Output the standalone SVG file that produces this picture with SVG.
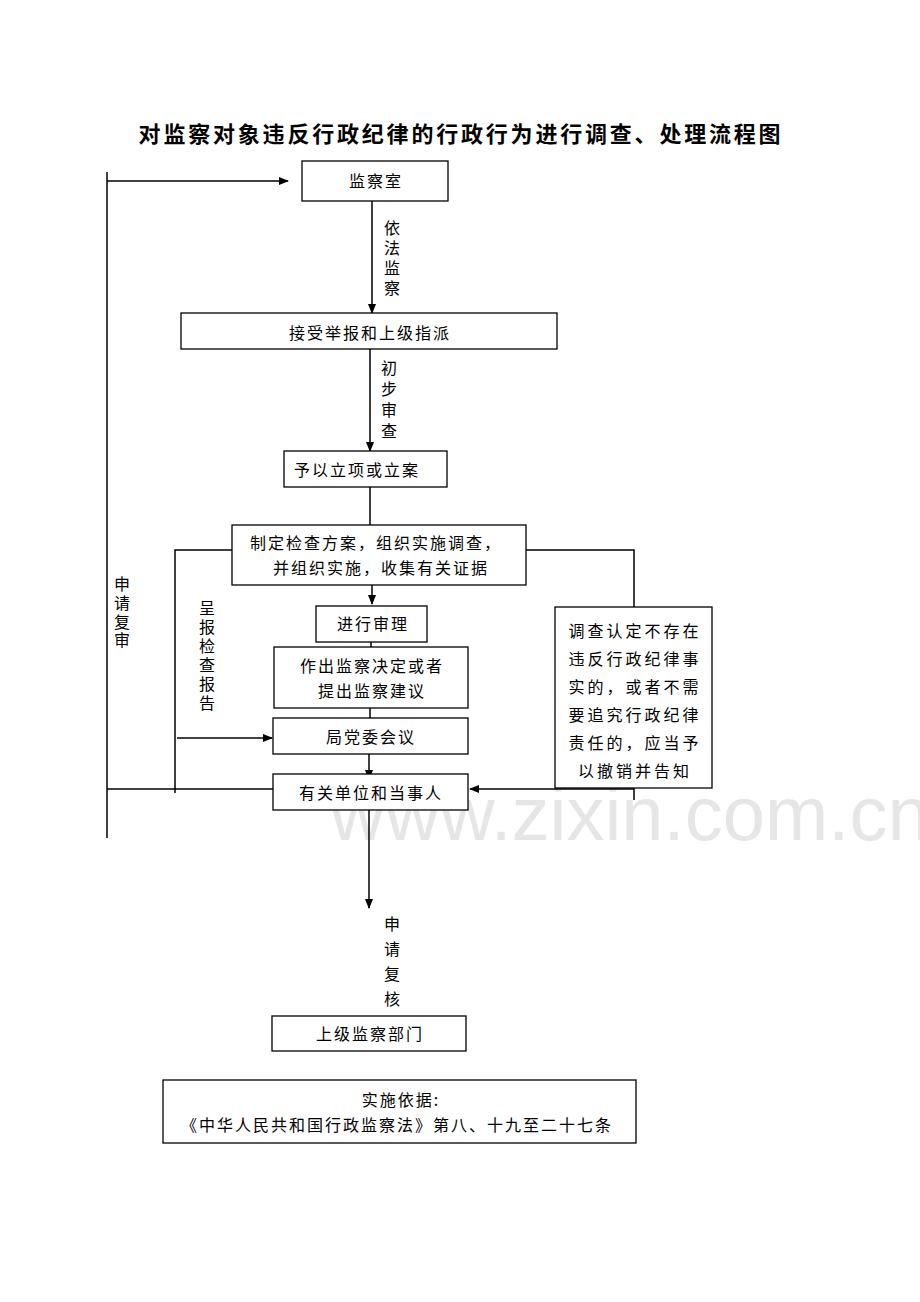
<svg xmlns="http://www.w3.org/2000/svg" width="920" height="1302" viewBox="0 0 920 1302">
<style>
.b{fill:#fff;stroke:#000;stroke-width:1.3}
.t{font-family:"Noto Sans CJK SC","Noto Sans CJK JP",sans-serif;font-size:16px;fill:#000;text-anchor:middle;letter-spacing:2px}
.r{letter-spacing:3px}
.l{stroke:#000;stroke-width:1.5;fill:none}
</style>
<defs><marker id="a" markerWidth="10" markerHeight="8" refX="9" refY="4" orient="auto" markerUnits="userSpaceOnUse"><path d="M0,0L10,4L0,8z" fill="#000"/></marker></defs>
<rect width="920" height="1302" fill="#fff"/>
<text x="330" y="840" font-family="Liberation Sans,sans-serif" font-size="76" fill="#e6e6e6">www.zixin.com.cn</text>
<text x="461" y="142" font-family="Noto Sans CJK SC,sans-serif" font-size="22" font-weight="bold" letter-spacing="2.8" text-anchor="middle">对监察对象违反行政纪律的行政行为进行调查、处理流程图</text>
<g id="connectors">
<path class="l" d="M107,172V838"/>
<path class="l" d="M107,181H288" marker-end="url(#a)"/>
<path class="l" d="M372,201V313" marker-end="url(#a)"/>
<path class="l" d="M370,349V451" marker-end="url(#a)"/>
<path class="l" d="M370,487V525"/>
<path class="l" d="M232,550H175V793"/>
<path class="l" d="M526,550H634V607"/>
<path class="l" d="M372,585V604" marker-end="url(#a)"/>
<path class="l" d="M371,642V660" marker-end="url(#a)"/>
<path class="l" d="M370,700V727" marker-end="url(#a)"/>
<path class="l" d="M369,754V779" marker-end="url(#a)"/>
<path class="l" d="M177,738H272" marker-end="url(#a)"/>
<path class="l" d="M107,789H273"/>
<path class="l" d="M634,788V800"/>
<path class="l" d="M634,789H470" marker-end="url(#a)"/>
<path class="l" d="M369,810V908" marker-end="url(#a)"/>
</g>
<g id="n1"><rect class="b" x="302" y="161" width="146" height="40"/><text class="t" x="376" y="187">监察室</text></g>
<g id="n2"><rect class="b" x="181" y="313" width="376" height="36"/><text class="t" x="370" y="339">接受举报和上级指派</text></g>
<g id="n3"><rect class="b" x="284" y="451" width="163" height="36"/><text class="t" x="357" y="476">予以立项或立案</text></g>
<g id="n4"><rect class="b" x="232" y="525" width="294" height="60"/><text class="t" x="376" y="549">制定检查方案，组织实施调查，</text><text class="t" x="381" y="574">并组织实施，收集有关证据</text></g>
<g id="n5"><rect class="b" x="316" y="606" width="111" height="36"/><text class="t" x="373" y="630">进行审理</text></g>
<g id="n6"><rect class="b" x="274" y="647" width="194" height="61"/><text class="t" x="372" y="672">作出监察决定或者</text><text class="t" x="372" y="697">提出监察建议</text></g>
<g id="n7"><rect class="b" x="273" y="718" width="195" height="36"/><text class="t" x="371" y="743">局党委会议</text></g>
<g id="n8"><rect class="b" x="273" y="774" width="195" height="36"/><text class="t" x="371" y="799">有关单位和当事人</text></g>
<g id="n9"><rect class="b" x="555" y="607" width="157" height="181"/>
<text class="t r" x="635" y="637">调查认定不存在</text><text class="t r" x="635" y="665">违反行政纪律事</text><text class="t r" x="635" y="693">实的，或者不需</text><text class="t r" x="635" y="721">要追究行政纪律</text><text class="t r" x="635" y="749">责任的，应当予</text><text class="t r" x="635" y="777">以撤销并告知</text></g>
<g id="n10"><rect class="b" x="272" y="1016" width="194" height="35"/><text class="t" x="370" y="1040">上级监察部门</text></g>
<g id="n11"><rect class="b" x="163" y="1080" width="473" height="63"/><text class="t" x="401" y="1106">实施依据:</text><text class="t" x="397" y="1131" letter-spacing="1.3">《中华人民共和国行政监察法》第八、十九至二十七条</text></g>
<g id="labels">
<text class="t" x="393" y="234">依</text><text class="t" x="393" y="254">法</text><text class="t" x="393" y="274">监</text><text class="t" x="393" y="294">察</text>
<text class="t" x="390" y="374">初</text><text class="t" x="390" y="395">步</text><text class="t" x="390" y="416">审</text><text class="t" x="390" y="437">查</text>
<text class="t" x="123" y="590">申</text><text class="t" x="123" y="609">请</text><text class="t" x="123" y="628">复</text><text class="t" x="123" y="646">审</text>
<text class="t" x="208" y="614">呈</text><text class="t" x="208" y="633">报</text><text class="t" x="208" y="652">检</text><text class="t" x="208" y="671">查</text><text class="t" x="208" y="690">报</text><text class="t" x="208" y="709">告</text>
<text class="t" x="393" y="930">申</text><text class="t" x="393" y="955">请</text><text class="t" x="393" y="980">复</text><text class="t" x="393" y="1005">核</text>
</g>
</svg>
